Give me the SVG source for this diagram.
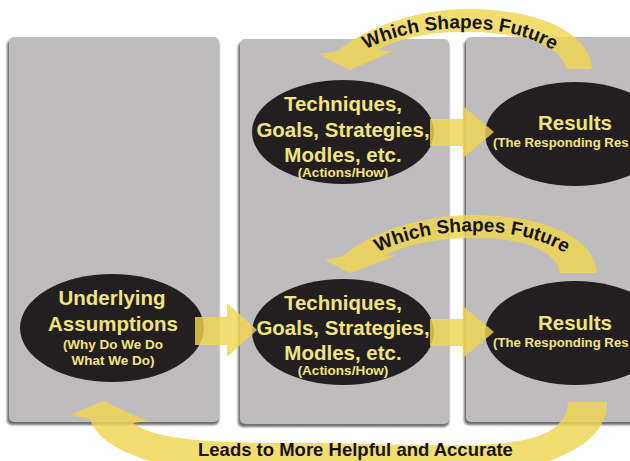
<svg xmlns="http://www.w3.org/2000/svg" width="630" height="461" viewBox="0 0 630 461">
<defs>
<style>
.panel{fill:#bebcbd}
.shadow{fill:#6f6d6e}
.oval{fill:#231f20}
.t{font-family:"Liberation Sans",Arial,sans-serif;font-weight:bold;fill:#f0e47c;text-anchor:middle}
.big{font-size:20.5px}
.small{font-size:13.5px}
.arrow{fill:#f0d650;opacity:0.82}
.lbl{font-family:"Liberation Sans",Arial,sans-serif;font-weight:bold;fill:#141414}
</style>
<filter id="soft" x="-5%" y="-5%" width="110%" height="110%"><feGaussianBlur stdDeviation="0.8"/></filter>
<path id="tp1" d="M360 53 C410 21 520 17 566 60"/>
<path id="tp2" d="M372 256 C422 224 532 220 578 263"/>
</defs>
<rect width="630" height="461" fill="#ffffff"/>
<g id="panels">
<rect class="shadow" x="7" y="40" width="212" height="385" rx="5" filter="url(#soft)"/>
<rect class="panel" x="9" y="37" width="210" height="385" rx="5"/>
<rect class="shadow" x="238" y="42" width="211" height="385" rx="5" filter="url(#soft)"/>
<rect class="panel" x="240" y="39" width="209" height="385" rx="5"/>
<rect class="shadow" x="464" y="40" width="180" height="385" rx="5" filter="url(#soft)"/>
<rect class="panel" x="466" y="37" width="180" height="385" rx="5"/>
</g>
<g id="node-underlying">
<ellipse class="oval" cx="112" cy="328" rx="92" ry="54"/>
</g>
<g id="node-tech-top">
<ellipse class="oval" cx="343" cy="132" rx="91" ry="52"/>
</g>
<g id="node-results-top">
<ellipse class="oval" cx="575" cy="134" rx="90" ry="52"/>
</g>
<g id="node-tech-bottom">
<ellipse class="oval" cx="343" cy="332" rx="91" ry="53"/>
</g>
<g id="node-results-bottom">
<ellipse class="oval" cx="575" cy="333" rx="90" ry="52"/>
</g>
<g id="connectors">
<polygon class="arrow" points="195,317 227,317 227,303 257,330 227,357 227,345 195,345"/>
<polygon class="arrow" points="430,119 463,119 463,106 494,132 463,158 463,146 430,146"/>
<polygon class="arrow" points="430,319 463,319 463,306 494,332 463,358 463,346 430,346"/>
<path class="arrow" d="M592 69 C590 35 545 10 470 9 C415 9 365 28 338 51 L318 54 L350 70 L394 51 L378 50 C400 38 430 31 470 32 C525 33 562 45 566 69 Z"/>
<path class="arrow" d="M597 273 C595 240 550 216 475 215 C420 215 372 232 343 256 L325 260 L350 273 L398 255 L384 256 C405 245 435 238 475 238 C525 238 555 250 560 273 Z"/>
<path class="arrow" d="M607 402 C608 440 560 470 460 478 C300 488 110 480 90 419 L70 415 L103 401 L147 421 L133 423 C155 440 210 443 300 443 C450 443 565 460 568 402 Z"/>
<text class="lbl" font-size="19"><textPath href="#tp1" startOffset="7">Which Shapes Future</textPath></text>
<text class="lbl" font-size="19"><textPath href="#tp2" startOffset="7">Which Shapes Future</textPath></text>
<text class="lbl" x="198" y="456" font-size="18.5">Leads to More Helpful and Accurate</text>
</g>
<g id="labels">
<text class="t big" x="112" y="305">Underlying</text>
<text class="t big" x="113" y="331">Assumptions</text>
<text class="t small" x="113" y="349">(Why Do We Do</text>
<text class="t small" x="113" y="365">What We Do)</text>
<text class="t big" x="343" y="111">Techniques,</text>
<text class="t big" x="343" y="137">Goals, Strategies,</text>
<text class="t big" x="343" y="162">Modles, etc.</text>
<text class="t small" x="343" y="177">(Actions/How)</text>
<text class="t big" x="575" y="130">Results</text>
<text class="t" x="493" y="147" font-size="13.2" style="text-anchor:start">(The Responding Res</text>
<text class="t big" x="343" y="310">Techniques,</text>
<text class="t big" x="343" y="335">Goals, Strategies,</text>
<text class="t big" x="343" y="360">Modles, etc.</text>
<text class="t small" x="343" y="375">(Actions/How)</text>
<text class="t big" x="575" y="330">Results</text>
<text class="t" x="493" y="347" font-size="13.2" style="text-anchor:start">(The Responding Res</text>
</g>
</svg>
